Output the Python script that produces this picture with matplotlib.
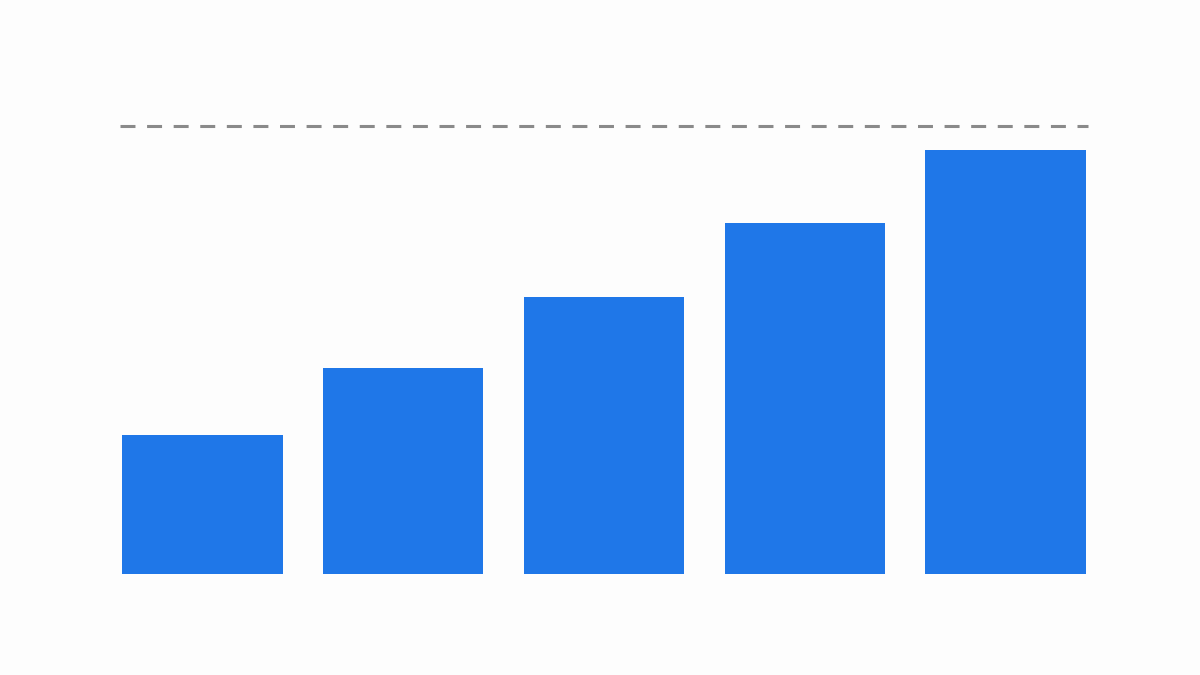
import matplotlib
matplotlib.use("Agg")
import matplotlib.pyplot as plt
import numpy as np

categories = ["A", "B", "C", "D", "E"]
values = [31.0, 46.0, 61.8, 78.3, 94.6]
target = 100

bar_color = "#1f77e8"
bg = "#fdfdfd"

fig = plt.figure(figsize=(12, 6.75), dpi=100, facecolor=bg)
ax = fig.add_axes([122/1200, 101/675, 964/1200, 492.8/675])
ax.set_facecolor(bg)

x = np.arange(len(categories))
ax.bar(x, values, width=0.8, color=bar_color, linewidth=0)
ax.set_xlim(-0.4, 4.4)
ax.set_ylim(0, 110)

px = 4.8 / 964  # data units per pixel in x
line, = ax.plot([-0.4 - 2*px, 4.4 + 2*px], [target, target], color="#8a8a8a",
                lw=2.2, clip_on=False, solid_capstyle="butt", dash_capstyle="butt")
line.set_dashes((4.9, 3.8))

ax.set_xticks([])
ax.set_yticks([])
for s in ax.spines.values():
    s.set_visible(False)

fig.savefig("out.png", dpi=100, facecolor=bg)
